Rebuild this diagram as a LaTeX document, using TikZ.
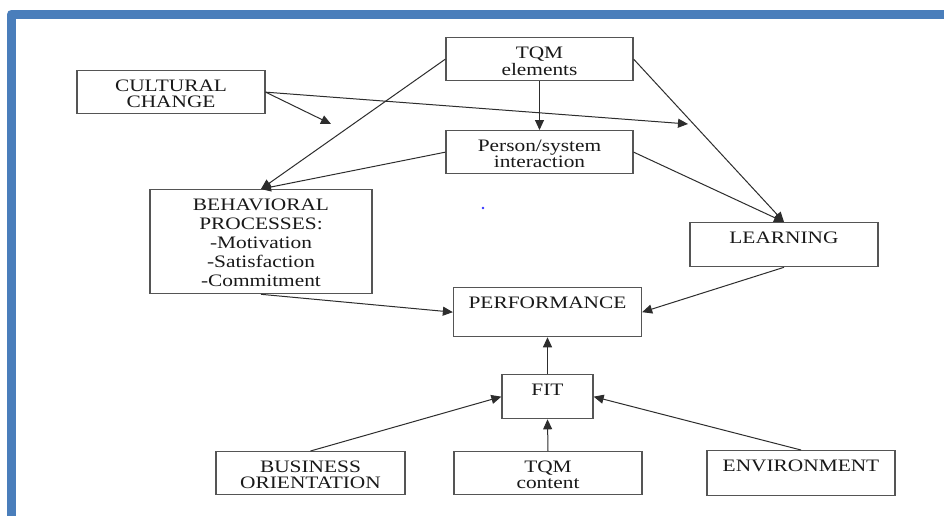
\documentclass[tikz,border=0pt]{standalone}
\usepackage{fontspec}
\setmainfont[FakeStretch=1.22]{Liberation Serif}
\usetikzlibrary{arrows.meta}
\definecolor{frameblue}{RGB}{74,126,187}
\definecolor{boxline}{RGB}{85,85,85}
\definecolor{linkline}{RGB}{45,45,45}
% centred multi-line text whose baseline is that of the first line
\newcommand\boxlines[1]{\begin{tabular}[t]{@{}c@{}}#1\end{tabular}}
\begin{document}
\begin{tikzpicture}[x=0.5pt,y=-0.5pt,
  box/.style 2 args={draw=boxline, line width=0.65pt, inner sep=0pt,
    anchor=north, minimum width=#1, text height=10.25pt, text depth=#2,
    font=\fontsize{8.75}{8}\selectfont, text=black!90},
  link/.style={draw=linkline, line width=0.5pt,
    -{Triangle[length=5pt,width=4.5pt]}}]
\useasboundingbox (0,0) rectangle (944,515);
\fill[white] (0,0) rectangle (944,515);
% page frame
\draw[frameblue, line width=4.5pt, line join=round] (11.5,520) -- (11.5,14) -- (950,14);
\fill[blue!80!white] (483,208) circle (0.7pt);

% boxes
\node[box={93.5pt}{11.25pt}] (tqm) at (539.5,37) {\boxlines{TQM\\elements}};
\node[box={94pt}{11.25pt}] (cult) at (171,70) {\boxlines{CULTURAL\\CHANGE}};
\node[box={93.5pt}{11.25pt}] (psi) at (539.5,130) {\boxlines{Person/system\\interaction}};
\node[box={111pt}{41.75pt}, font=\fontsize{8.75}{9.5}\selectfont] (beh) at (261,189)
  {\boxlines{BEHAVIORAL\\PROCESSES:\\-Motivation\\-Satisfaction\\-Commitment}};
\node[box={94pt}{11.75pt}] (learn) at (784,222) {LEARNING};
\node[box={94pt}{14.25pt}] (perf) at (547.5,287) {PERFORMANCE};
\node[box={45.5pt}{11.75pt}] (fit) at (547.5,374) {FIT};
\node[box={94.5pt}{11.25pt}] (bus) at (310.5,451) {\boxlines{BUSINESS\\ORIENTATION}};
\node[box={94pt}{11.25pt}] (tqmc) at (548,451) {\boxlines{TQM\\content}};
\node[box={94pt}{12.25pt}] (env) at (801,450) {ENVIRONMENT};

% free ends of the cultural-change arrows
\coordinate (c1) at (331,124);
\coordinate (c2) at (688,124);

% connectors
\draw[link] (tqm.west) -- (beh.north);
\draw[link] (psi.west) -- (beh.north);
\draw[link] (cult.east) -- (c1);
\draw[link] (cult.east) -- (c2);
\draw[link] (tqm.south) -- (psi.north);
\draw[link] (tqm.east) -- (learn.north);
\draw[link] (psi.east) -- (learn.north);
\draw[link] (learn.south) -- (perf.east);
\draw[link] (beh.south) -- (perf.west);
\draw[link] (fit.north) -- (perf.south);
\draw[link] (bus.north) -- (fit.west);
\draw[link] (tqmc.north) -- (fit.south);
\draw[link] (env.north) -- (fit.east);
\end{tikzpicture}
\end{document}
